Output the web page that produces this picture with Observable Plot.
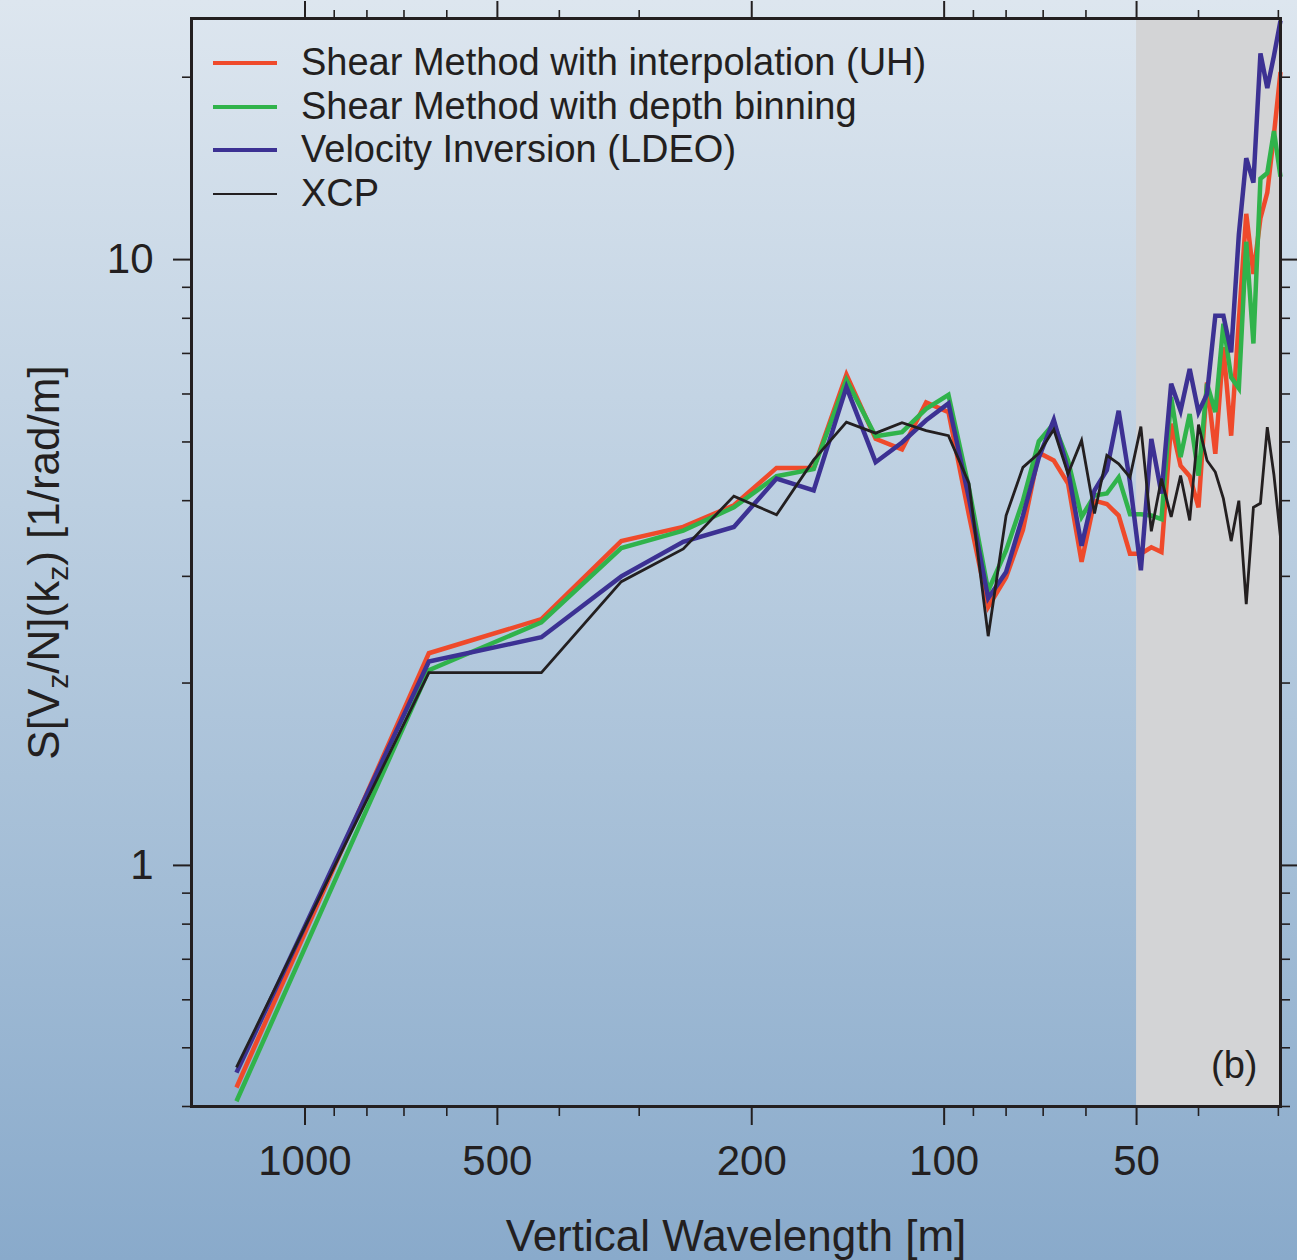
<!DOCTYPE html>
<html>
<head>
<meta charset="utf-8">
<script src="https://cdn.jsdelivr.net/npm/d3@7"></script>
<script src="https://cdn.jsdelivr.net/npm/@observablehq/plot@0.6"></script>
<style>
  html, body { margin: 0; padding: 0; }
  #chart {
    position: relative;
    width: 1297px;
    height: 1260px;
    overflow: hidden;
    background: linear-gradient(to bottom, #dde6ef 0%, #bccfe1 40%, #a3bdd6 70%, #89aacb 100%);
    font-family: "Liberation Sans", Arial, sans-serif;
    color: #231f20;
  }
  #chart svg { position: absolute; left: 0; top: 0; }
  #legend {
    position: absolute;
    left: 213px;
    top: 41px;
    font-size: 38px;
    line-height: 43.7px;
    color: #231f20;
  }
  #legend .row { display: flex; align-items: center; height: 43.7px; white-space: nowrap; }
  #legend .swatch { width: 64px; margin-right: 24px; }
</style>
</head>
<body>
<div id="chart"><div id="legend"></div></div>
<script>
// Vertical wavelength of each spectral estimate [m]
const wavelength = [1280, 640, 426.7, 320, 256, 213.3, 182.9, 160, 142.2, 128, 116.4, 106.7, 98.46, 91.43,
  85.33, 80, 75.29, 71.11, 67.37, 64, 60.95, 58.18, 55.65, 53.33, 51.2, 49.23, 47.41, 45.71, 44.14, 42.67,
  41.29, 40, 38.79, 37.65, 36.57, 35.56, 34.59, 33.68, 32.82, 32, 31.22, 30.48, 29.77];

// S[Vz/N](kz) for each method
const shearInterp = [0.43, 2.24, 2.55, 3.43, 3.62, 3.93, 4.53, 4.53, 6.46, 5.06, 4.86, 5.81, 5.60, 3.78,
  2.67, 2.99, 3.58, 4.80, 4.66, 4.27, 3.17, 4.00, 3.95, 3.78, 3.27, 3.27, 3.35, 3.29, 5.36, 4.57, 4.39,
  3.90, 6.27, 4.78, 7.17, 5.12, 7.93, 11.9, 9.47, 11.7, 12.9, 16.1, 20.4];
const shearBinning = [0.408, 2.10, 2.52, 3.34, 3.57, 3.90, 4.39, 4.51, 6.33, 5.11, 5.19, 5.67, 5.98, 4.19,
  2.84, 3.31, 4.00, 5.01, 5.36, 4.66, 3.76, 4.08, 4.11, 4.37, 3.80, 3.80, 3.78, 3.73, 5.93, 4.72, 5.56,
  4.40, 6.24, 5.60, 7.84, 6.39, 6.13, 10.7, 7.27, 13.6, 13.9, 16.3, 13.7];
const velocityInversion = [0.455, 2.17, 2.38, 3.00, 3.42, 3.62, 4.35, 4.16, 6.16, 4.63, 4.99, 5.43, 5.79, 4.03,
  2.76, 3.05, 3.78, 4.71, 5.44, 4.49, 3.37, 4.16, 4.49, 5.63, 4.29, 3.07, 5.06, 4.11, 6.24, 5.63, 6.60,
  5.60, 6.00, 8.08, 8.08, 7.03, 11.0, 14.7, 13.4, 21.9, 19.2, 21.7, 24.8];
const xcp = [0.464, 2.08, 2.08, 2.94, 3.33, 4.07, 3.79, 4.67, 5.39, 5.17, 5.38, 5.22, 5.12, 4.27,
  2.39, 3.78, 4.54, 4.79, 5.24, 4.43, 5.03, 3.81, 4.75, 4.60, 4.37, 5.30, 3.56, 4.35, 3.76, 4.40, 3.71,
  5.34, 4.66, 4.46, 4.03, 3.43, 4.00, 2.70, 3.90, 3.96, 5.29, 4.41, 3.48];

const seriesNames = [
  "Shear Method with interpolation (UH)",
  "Shear Method with depth binning",
  "Velocity Inversion (LDEO)",
  "XCP"
];
const seriesValues = [shearInterp, shearBinning, velocityInversion, xcp];
const seriesColors = ["#ef4a2b", "#30b34b", "#3c3193", "#231f20"];
const seriesWidths = [4.5, 4.5, 4.5, 2.8];
const legendWidths = [4, 4, 4, 1.6];

// Axis ticks
const xMajorTicks = [1000, 500, 200, 100, 50];
const xMinorTicks = [900, 800, 700, 600, 400, 300, 90, 80, 70, 60, 40, 30];
const yMajorTicks = [1, 10];
const yMinorTicks = [0.4, 0.5, 0.6, 0.7, 0.8, 0.9, 2, 3, 4, 5, 6, 7, 8, 9, 20];

const xDomain = [1505, 29.77];
const yDomain = [0.4, 25];

// Wavelengths below 50 m are shaded
const shadedBand = [{from: 50, to: 29.77}];

const xTitle = "Vertical Wavelength [m]";
const yTitleParts = [["S[V", false], ["z", true], ["/N](k", false], ["z", true], [") [1/rad/m]", false]];
const panelTag = "(b)";

const ink = "#231f20";

const lineMarks = seriesValues.map((values, i) =>
  Plot.line(wavelength.map((w, j) => ({wavelength: w, value: values[j]})), {
    x: "wavelength",
    y: "value",
    stroke: seriesColors[i],
    strokeWidth: seriesWidths[i],
    strokeLinejoin: "miter",
    strokeMiterlimit: 4,
    strokeLinecap: "butt"
  })
);

const blank = () => "";

const chart = Plot.plot({
  width: 1297,
  height: 1260,
  marginLeft: 191,
  marginRight: 17,
  marginTop: 18,
  marginBottom: 154,
  style: {background: "transparent", color: ink, fontFamily: "'Liberation Sans', Arial, sans-serif", overflow: "visible"},
  x: {type: "log", domain: xDomain},
  y: {type: "log", domain: yDomain},
  marks: [
    Plot.rect(shadedBand, {x1: "from", x2: "to", y1: yDomain[0], y2: yDomain[1], fill: "#d3d4d6"}),
    ...lineMarks,
    Plot.frame({stroke: ink, strokeWidth: 3}),
    // bottom axis
    Plot.axisX({ticks: xMajorTicks, anchor: "bottom", tickSize: 19, tickPadding: 20, fontSize: 42, strokeWidth: 2, tickFormat: d => String(d), label: null}),
    Plot.axisX({ticks: xMinorTicks, anchor: "bottom", tickSize: 10, strokeWidth: 1.6, tickFormat: blank, label: null}),
    // top axis
    Plot.axisX({ticks: xMajorTicks, anchor: "top", tickSize: 18, strokeWidth: 2, tickFormat: blank, label: null}),
    Plot.axisX({ticks: xMinorTicks, anchor: "top", tickSize: 9, strokeWidth: 1.6, tickFormat: blank, label: null}),
    // left axis
    Plot.axisY({ticks: yMajorTicks, anchor: "left", tickSize: 18, tickPadding: 20, fontSize: 42, strokeWidth: 2, tickFormat: d => String(d), label: null}),
    Plot.axisY({ticks: yMinorTicks, anchor: "left", tickSize: 9, strokeWidth: 1.6, tickFormat: blank, label: null}),
    // right axis
    Plot.axisY({ticks: yMajorTicks, anchor: "right", tickSize: 17, strokeWidth: 2, tickFormat: blank, label: null}),
    Plot.axisY({ticks: yMinorTicks, anchor: "right", tickSize: 9, strokeWidth: 1.6, tickFormat: blank, label: null}),
    // axis titles and panel tag
    Plot.text([xTitle], {frameAnchor: "bottom", dy: 130, fontSize: 44, lineAnchor: "middle", fill: ink}),
    Plot.text([yTitleParts.map(p => p[0]).join("")], {frameAnchor: "left", dx: -147, rotate: -90, fontSize: 44, textAnchor: "middle", lineAnchor: "middle", fill: ink, className: "y-title"}),
    Plot.text([panelTag], {frameAnchor: "bottom-right", dx: -23, dy: -29, fontSize: 38, textAnchor: "end", lineAnchor: "bottom", fill: ink})
  ]
});

// Rebuild the y title with subscripted z
const yTitleNode = chart.querySelector(".y-title text");
if (yTitleNode) {
  yTitleNode.textContent = "";
  yTitleNode.setAttribute("text-anchor", "middle");
  const ns = "http://www.w3.org/2000/svg";
  let shifted = false;
  for (const [str, sub] of yTitleParts) {
    const ts = document.createElementNS(ns, "tspan");
    ts.textContent = str;
    if (sub) {
      ts.setAttribute("font-size", "30");
      ts.setAttribute("dy", "9");
      shifted = true;
    } else if (shifted) {
      ts.setAttribute("dy", "-9");
      shifted = false;
    }
    yTitleNode.appendChild(ts);
  }
}

const container = document.getElementById("chart");
container.insertBefore(chart, container.firstChild);

// Legend
const legend = document.getElementById("legend");
seriesNames.forEach((name, i) => {
  const row = document.createElement("div");
  row.className = "row";
  const sw = document.createElement("div");
  sw.className = "swatch";
  sw.style.height = legendWidths[i] + "px";
  sw.style.background = seriesColors[i];
  const label = document.createElement("span");
  label.textContent = name;
  row.appendChild(sw);
  row.appendChild(label);
  legend.appendChild(row);
});
</script>
</body>
</html>
